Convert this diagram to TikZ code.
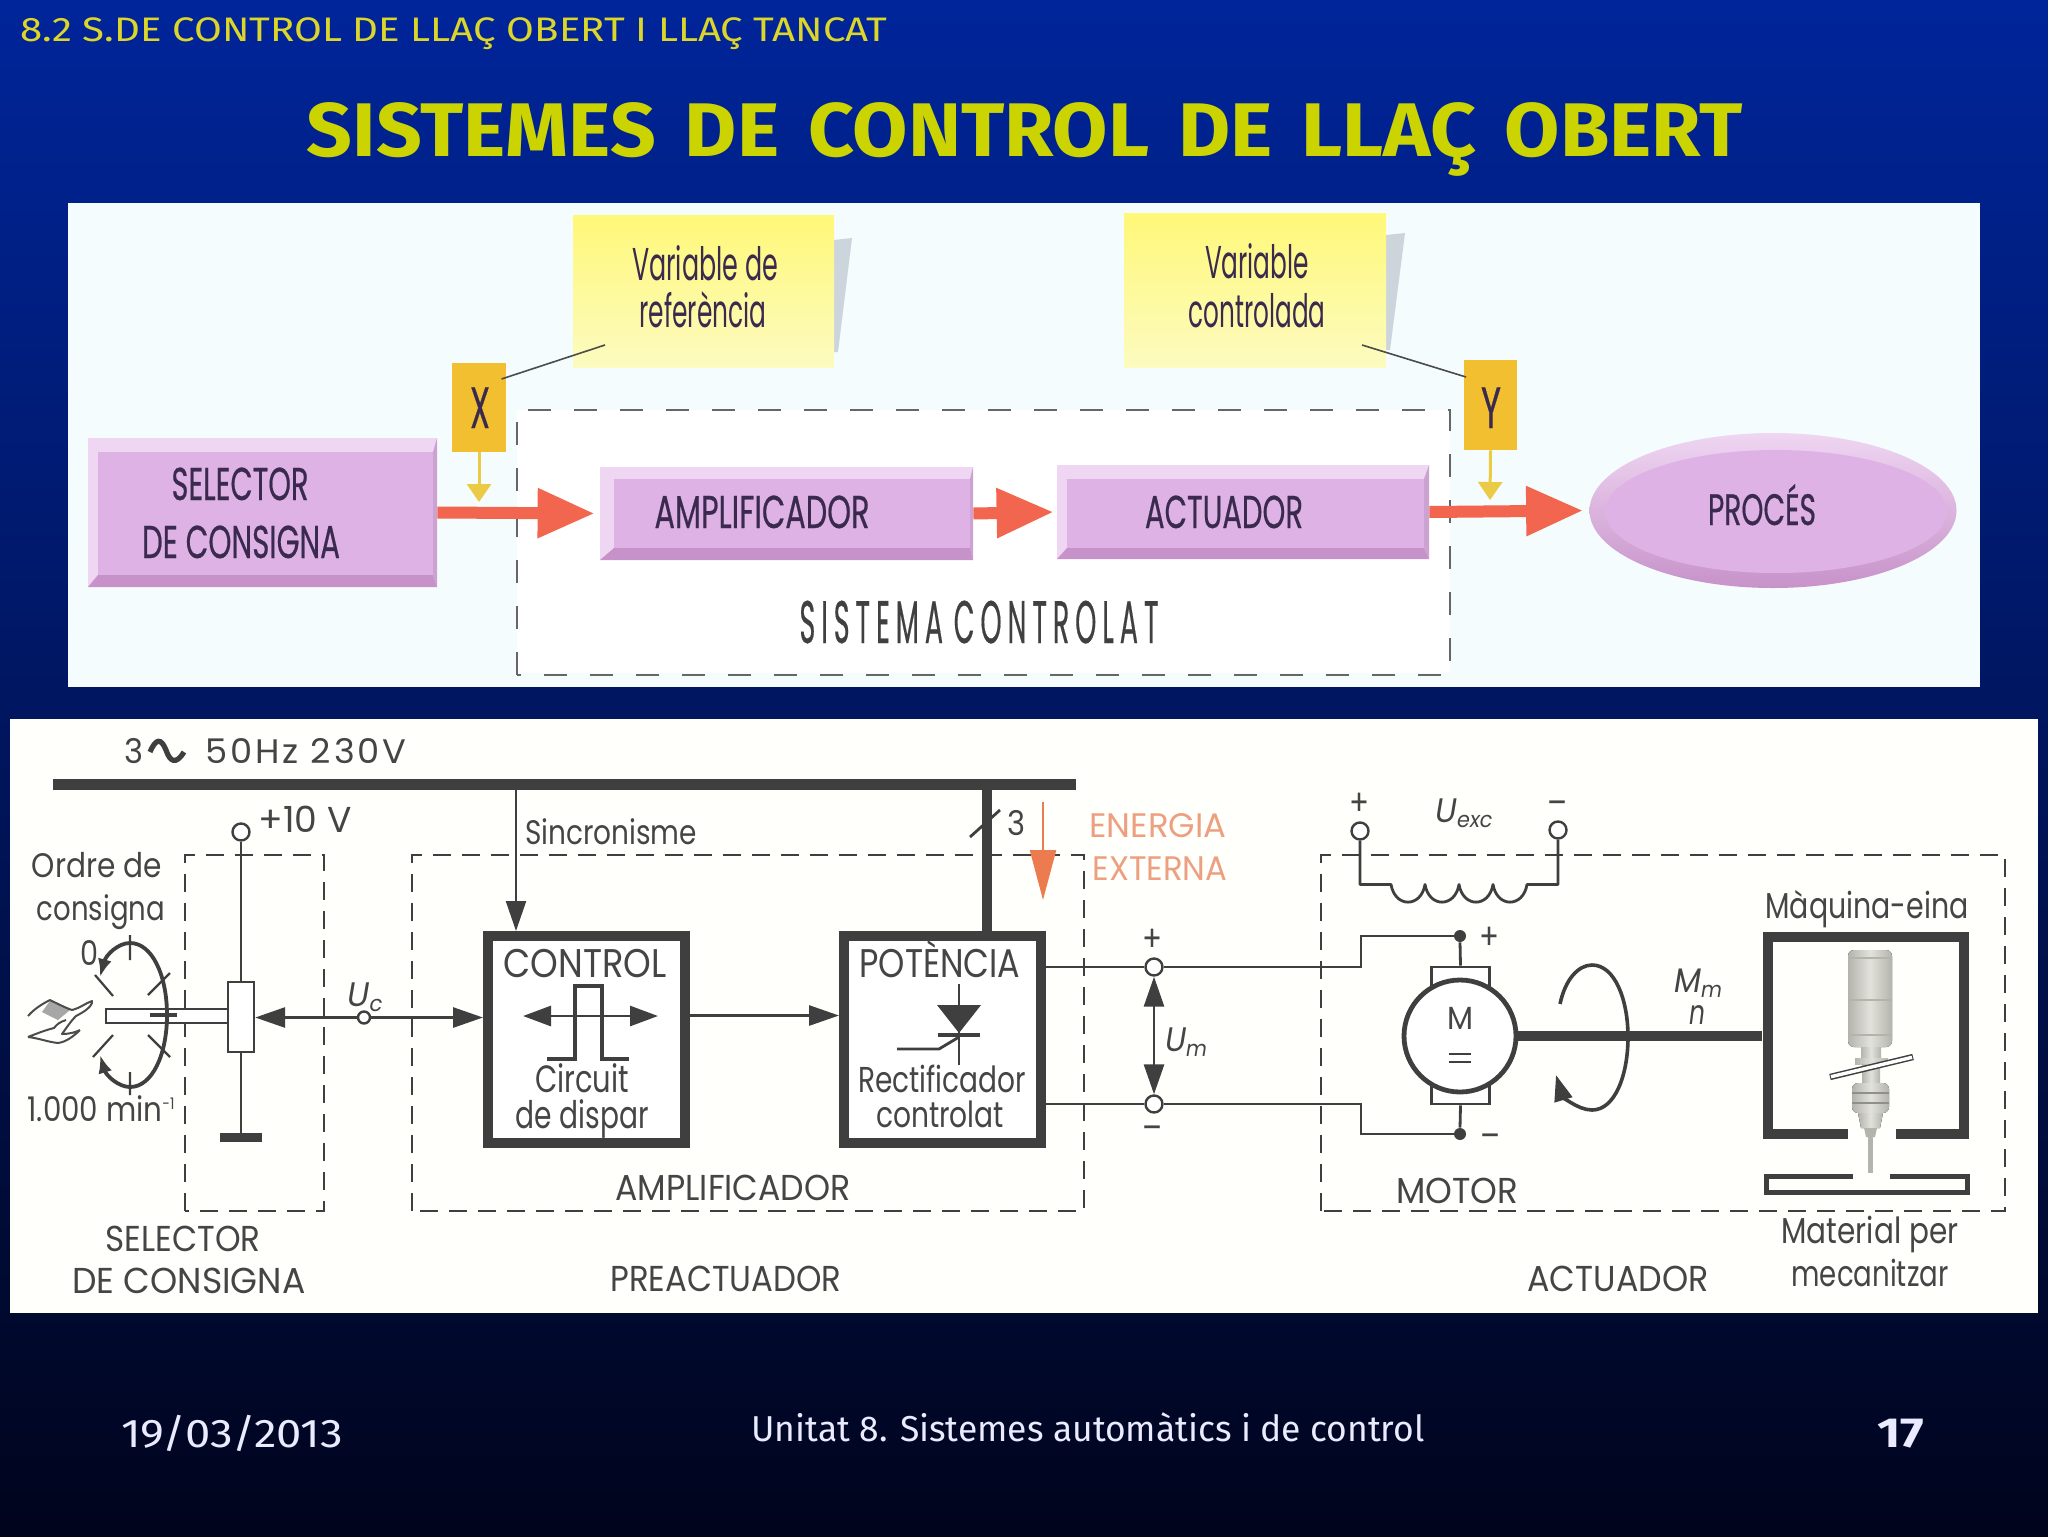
\documentclass[tikz,border=0pt]{standalone}
\usepackage{fontspec}
\usepackage{graphicx}
\setmainfont{Poppins}
\newfontfamily\comic{Fira Sans}
\newfontfamily\pmed[FakeBold=0.6]{Poppins}
\usetikzlibrary{arrows.meta,shapes.geometric,calc}
\newdimen\pxlen \pxlen=0.5pt
% size (pt), natural height kept, width forced to #2 px
\newcommand\Tx[3]{{\fontsize{#1}{#1}\selectfont\resizebox{#2\pxlen}{\height}{#3}}}
\newcommand\subsc[1]{\raisebox{-2.5pt}{\fontsize{11}{11}\selectfont #1}}
\definecolor{ink}{HTML}{454545}
\definecolor{dk}{HTML}{3F3F3F}
\definecolor{face}{HTML}{DFB2E6}
\definecolor{bevL}{HTML}{EFD6F2}
\definecolor{bevD}{HTML}{C792C9}
\definecolor{bevR}{HTML}{CCA3D0}
\definecolor{redar}{HTML}{F2654F}
\definecolor{yelar}{HTML}{EBCB45}
\definecolor{gold}{HTML}{F2BF30}
\definecolor{orng}{HTML}{EC7C50}
\definecolor{orngt}{HTML}{EDA080}
\definecolor{boxtxt}{HTML}{3A2A4E}
\definecolor{ttl}{HTML}{CBD400}
\definecolor{hdr}{HTML}{DDD62A}
\definecolor{sliver}{HTML}{CDD5DC}
\tikzset{
  sz/.style 2 args={minimum width=#1*0.5pt,minimum height=#2*0.5pt,inner sep=0pt},
  txt/.style={inner sep=0pt,anchor=base,text=ink},
  boxlabel/.style={inner sep=0pt,anchor=base,text=boxtxt,font=\pmed},
  wire/.style={draw=dk,line width=1.4pt},
  thin wire/.style={draw=dk,line width=1.1pt},
  dashbox/.style={draw=dk,line width=1.2pt,dash pattern=on 9pt off 5.5pt},
  dashtop/.style={draw=black!60,line width=1pt,dash pattern=on 11.5pt off 11.5pt},
  term/.style={circle,draw=dk,fill=white,line width=1.2pt,minimum size=8.5pt,inner sep=0pt},
  dot/.style={circle,fill=dk,minimum size=6pt,inner sep=0pt},
  heavy/.style={draw=dk,line width=5pt,fill=white},
  flow/.style={draw=redar,line width=6pt,-{Triangle[length=28.5pt,width=23.5pt]}},
  down/.style={draw=yelar,line width=1.5pt,-{Triangle[length=9pt,width=12pt]}},
  head/.style={-{Triangle[length=15pt,width=10pt]}},
  headb/.style={{Triangle[length=15pt,width=10pt]}-{Triangle[length=15pt,width=10pt]}},
}
\newcommand\bevel[8]{% outer x1 y1 x2 y2, inner x1 y1 x2 y2
  \fill[bevL] (#1,#2) rectangle (#3,#4);
  \fill[bevL] (#1,#2) -- (#3,#2) -- (#7,#6) -- (#5,#6) -- cycle;
  \fill[bevR] (#3,#2) -- (#3,#4) -- (#7,#8) -- (#7,#6) -- cycle;
  \fill[bevD] (#1,#4) -- (#3,#4) -- (#7,#8) -- (#5,#8) -- cycle;
  \fill[face] (#5,#6) rectangle (#7,#8);
}
\begin{document}
\begin{tikzpicture}[x=0.5pt,y=-0.5pt]
\useasboundingbox (0,0) rectangle (2048,1536);
\definecolor{bgT}{HTML}{00259A}\definecolor{bgM}{HTML}{001A74}\definecolor{bgB}{HTML}{00041C}
\shade[top color=bgT,middle color=bgM,bottom color=bgB] (0,0) rectangle (2048,1536);

% headings
\node[inner sep=0pt,anchor=base,text=hdr,font=\comic] (head) at (454,42) {\Tx{17}{867}{8.2 S.DE CONTROL DE LLAÇ OBERT I LLAÇ TANCAT}};
\node[inner sep=0pt,anchor=base,text=ttl,font=\comic\bfseries] (title) at (1025,156) {\Tx{38}{1436}{\spaceskip=0.36em SISTEMES DE CONTROL DE LLAÇ OBERT}};
\node[inner sep=0pt,anchor=base,text=white!92!blue,font=\comic] (date) at (232,1447) {\Tx{20}{222}{19/03/2013}};
\node[inner sep=0pt,anchor=base,text=white!92!blue,font=\comic] (unit) at (1088,1441) {\Tx{18}{673}{Unitat 8. Sistemes automàtics i de control}};
\node[inner sep=0pt,anchor=base,text=white!92!blue,font=\comic\bfseries] (page) at (1901,1447) {\Tx{21}{47}{17}};

% ---------- top panel ----------
\fill[white!96!cyan] (68,203) rectangle (1980,687);
\fill[white] (517,410) rectangle (1450,673);

% notes
\fill[sliver] (834,240) -- (852,238) -- (838,352) -- (834,352) -- cycle;
\fill[sliver] (1386,235) -- (1405,233) -- (1390,350) -- (1386,350) -- cycle;
\definecolor{noteT}{HTML}{FFF878}\definecolor{noteB}{HTML}{FCFBC0}
\node[sz={261}{152},top color=noteT,bottom color=noteB] (note1) at (703.5,291) {};
\node[sz={262}{154},top color=noteT,bottom color=noteB] (note2) at (1255,290) {};
\node[boxlabel,font=\mdseries] (n1a) at (705,280) {\Tx{23}{146}{Variable de}};
\node[boxlabel,font=\mdseries] (n1b) at (703,327) {\Tx{23}{127}{referència}};
\node[boxlabel,font=\mdseries] (n2a) at (1257,278) {\Tx{23}{104}{Variable}};
\node[boxlabel,font=\mdseries] (n2b) at (1257,327) {\Tx{23}{137}{controlada}};

% dashed system box
\draw[dashtop] (517,675) -- (517,410) -- (1450,410) -- (1450,675) -- cycle;
\node[boxlabel,text=black!75] (syscon) at (979,643) {\Tx{30}{359}{\addfontfeature{LetterSpace=22}\spaceskip=0.4em SISTEMA CONTROLAT}};

% blocks
\bevel{88}{438}{437}{587}{98}{452}{433}{575}
\bevel{600}{467}{973}{560}{614}{479}{970}{548}
\bevel{1057}{465}{1429}{559}{1067}{479}{1424}{548}
\node[sz={349}{149}] (sel) at (262.5,512.5) {};
\node[sz={373}{93}] (amp) at (786.5,513.5) {};
\node[sz={372}{94}] (act) at (1243,512) {};
\node[ellipse,sz={367}{155},top color=bevL,bottom color=bevD] (proc) at (1773,510.5) {};
\fill[face] (1776,511.5) ellipse [x radius=171,y radius=61.5];
\node[boxlabel] (l1) at (240,500) {\Tx{23}{137}{SELECTOR}};
\node[boxlabel] (l2) at (241,558) {\Tx{23}{198}{DE CONSIGNA}};
\node[boxlabel] (l3) at (762,528) {\Tx{23}{215}{AMPLIFICADOR}};
\node[boxlabel] (l4) at (1224,528) {\Tx{23}{158}{ACTUADOR}};
\node[boxlabel] (l5) at (1762,525) {\Tx{22}{108}{PROCÉS}};

% flow arrows
\draw[flow,shorten >=2.5pt] (sel.east) -- (amp.west);
\draw[flow,shorten >=1.5pt] (amp.east) -- (act.west);
\draw[flow,shorten >=3pt] (act.east) -- (proc.west);

% X and Y tags
\node[sz={54}{89},fill=gold] (xb) at (479,407.5) {};
\node[sz={53}{90},fill=gold] (yb) at (1490.5,405) {};
\node[boxlabel] (xl) at (480,428) {\Tx{29}{20}{X}};
\node[boxlabel] (yl) at (1491,428) {\Tx{29}{20}{Y}};
\coordinate (tipx) at (479,502);
\coordinate (tipy) at (1490,500);
\draw[down] (xb.south) -- (tipx);
\draw[down] (yb.south) -- (tipy);
\coordinate (lead1) at (605,345);
\coordinate (lead1b) at (501.5,379);
\coordinate (lead2) at (1362,345);
\coordinate (lead2b) at (1466,377);
\draw[black!70,line width=.8pt] (lead1) -- (lead1b);
\draw[black!70,line width=.8pt] (lead2) -- (lead2b);

% ---------- bottom panel ----------
\fill[white!99!yellow] (10,719) rectangle (2038,1313);

% dashed frames
\draw[dashbox] (185,1211) -- (185,855) -- (324,855) -- (324,1211) -- cycle;
\draw[dashbox] (412,1211) -- (412,855) -- (1084,855) -- (1084,1211) -- cycle;
\draw[dashbox] (1321,1211) -- (1321,855) -- (2005,855) -- (2005,1211) -- cycle;

% bus
\node[sz={1023}{11},fill=dk] (bus) at (564.5,784) {};
\node[txt] (three) at (134,763) {\Tx{17}{19}{3}};
\draw[dk,line width=2.6pt] (150,752) .. controls (156,738) and (161,738) .. (166,750) .. controls (170,762) and (176,765) .. (184,752);
\node[txt] (freq) at (306,763) {\Tx{17}{201}{\addfontfeature{LetterSpace=8}50Hz 230V}};

% selector
\node[term] (p10) at (241,832) {};
\node[sz={26}{70},draw=dk,fill=white,line width=1.2pt] (pot) at (241,1017) {};
\node[sz={42}{9},fill=dk] (gnd) at (241,1137.5) {};
\draw[wire] (p10.south) -- (pot.north);
\draw[wire] (pot.south) -- (gnd.north);
\node[txt] (ten) at (305,832) {\Tx{18}{93}{+10 V}};
\node[txt] (ord1) at (97,877) {\Tx{17}{130}{Ordre de}};
\node[txt] (ord2) at (101,920) {\Tx{17}{128}{consigna}};
\node[txt] (zero) at (89,965) {\Tx{17}{18}{0}};
\node[txt] (kmin) at (101,1121) {\Tx{17}{147}{1.000 min\raisebox{6pt}{\fontsize{8}{8}\selectfont -1}}};
% rod and dial
\node[sz={122}{14},draw=dk,fill=white,line width=1pt] (rod) at (167,1016) {};
\draw[dk,line width=2pt] (150,1015) -- (177,1015);
\draw[dk,line width=1.9pt,{Latex[length=9pt,width=7pt]}-{Latex[length=9pt,width=7pt]}]
  (100,977) .. controls (106,955) and (118,943) .. (130,943) .. controls (152,943) and (167,975) .. (167,1015)
  .. controls (167,1055) and (152,1087) .. (130,1087) .. controls (118,1087) and (106,1075) .. (100,1055);
\draw[dk,line width=1.1pt]
  (130,935) -- (130,960) (95,975) -- (113,996) (148,995) -- (170,973)
  (148,1035) -- (170,1057) (93,1057) -- (113,1035) (130,1072) -- (130,1095);
% hand
\fill[black!35] (50,1001) -- (70,1010) -- (58,1020) -- (42,1012) -- cycle;
\draw[black!70,line width=1pt,line join=round]
  (28,1016) .. controls (35,1008) and (44,1003) .. (50,1000) .. controls (58,1004) and (66,1008) .. (72,1010)
  .. controls (80,1008) and (86,1003) .. (92,1001) .. controls (93,1006) and (84,1012) .. (76,1016)
  .. controls (70,1022) and (65,1030) .. (62,1034) .. controls (70,1034) and (76,1032) .. (80,1030)
  (28,1037) .. controls (38,1038) and (48,1042) .. (58,1043) .. controls (66,1042) and (74,1036) .. (80,1030)
  (28,1037) .. controls (38,1033) and (46,1030) .. (54,1028) .. controls (57,1024) and (60,1022) .. (66,1020);

% control chain
\node[term,minimum size=6pt] (uc) at (364,1017.5) {};
\node[txt] (uclab) at (365,1006) {\Tx{17}{35}{\itshape U\subsc{c}}};
\node[sz={197}{207},heavy] (ctrl) at (586.5,1039.5) {};
\node[sz={197}{207},heavy] (pwr) at (942.5,1039.5) {};
\draw[wire,head] (uc.west) -- (pot.east |- uc.west);
\draw[wire,head] (uc.east) -- (ctrl.west |- uc.east);
\draw[wire,head] (ctrl.east |- 0,1015.5) -- (pwr.west |- 0,1015.5);
\coordinate (sinc) at (516,800);
\coordinate (pw) at (987,800);
\draw[thin wire,head] (bus.south -| sinc) -- (ctrl.north -| sinc);
\draw[dk,line width=5pt] (bus.south -| pw) -- (pwr.north -| pw);
\coordinate (sl1) at (970,837);
\coordinate (sl2) at (1000,810);
\draw[dk,line width=1.4pt] (sl1) -- (sl2);
\node[txt] (sinclab) at (611,844) {\Tx{17}{172}{Sincronisme}};
\node[txt] (threeb) at (1016,835) {\Tx{17}{18}{3}};
\node[txt] (ctl) at (585,977) {\Tx{20}{163}{CONTROL}};
\draw[dk,line width=2.4pt] (547,1059) -- (575,1059) -- (575,986) -- (602,986) -- (602,1059) -- (629,1059);
\coordinate (pl) at (523,1016);
\coordinate (pr) at (658,1016);
\draw[dk,line width=1.4pt,{Triangle[length=14pt,width=10pt]}-{Triangle[length=14pt,width=10pt]}] (pl) -- (pr);
\node[txt] (circ) at (582,1092) {\Tx{19}{94}{Circuit}};
\node[txt] (disp) at (582,1128) {\Tx{19}{133}{de dispar}};
\node[txt] (pot2) at (940,977) {\Tx{20}{161}{POTÈNCIA}};
% thyristor
\coordinate (thA) at (959,984);
\coordinate (thK) at (959,1065);
\draw[wire] (thA) -- (thK);
\fill[dk] (937,1005) -- (981,1005) -- (959,1033) -- cycle;
\draw[dk,line width=2pt] (938,1035) -- (980,1035);
\draw[wire] (897,1049) -- (939,1049) -- (959,1037);
\node[txt] (rect) at (942,1092) {\Tx{18}{168}{Rectificador}};
\node[txt] (ctlat) at (940,1127) {\Tx{18}{128}{controlat}};
\coordinate (rt) at (1043,802);
\coordinate (rb) at (1043,900);
\draw[orng,line width=1.2pt,-{Triangle[length=25pt,width=13pt]}] (rt) -- (rb);
\node[txt,text=orngt] (en1) at (1158,837) {\Tx{17}{137}{ENERGIA}};
\node[txt,text=orngt] (en2) at (1160,880) {\Tx{17}{135}{EXTERNA}};
\node[txt] (ampb) at (733,1200) {\Tx{18}{235}{AMPLIFICADOR}};
\node[txt] (prea) at (726,1291) {\Tx{18}{231}{PREACTUADOR}};
\node[txt] (sel1) at (183,1251) {\Tx{18}{155}{SELECTOR}};
\node[txt] (sel2) at (189,1293) {\Tx{18}{233}{DE CONSIGNA}};
\node[txt] (actb) at (1618,1291) {\Tx{18}{181}{ACTUADOR}};
\node[txt] (motb) at (1457,1203) {\Tx{18}{122}{MOTOR}};

% armature wiring
\node[term] (up) at (1154,967) {};
\node[term] (un) at (1154,1104) {};
\node[dot] (dp) at (1460,936) {};
\node[dot] (dn) at (1460,1134) {};
\draw[wire] (pwr.east |- up) -- (up.west);
\draw[wire] (pwr.east |- un) -- (un.west);
\draw[wire] (up.east) -- (1361,967) -- (1361,936) -- (dp.west);
\draw[wire] (un.east) -- (1361,1104) -- (1361,1134) -- (dn.west);
\draw[wire,headb] (up.south) -- (un.north);
\node[txt] (upp) at (1152,951) {\Tx{18}{20}{+}};
\node[txt] (unn) at (1152,1140) {\Tx{18}{20}{–}};
\node[txt] (um) at (1186,1051) {\Tx{17}{42}{\itshape U\subsc{m}}};

% motor
\node[sz={58}{26},draw=dk,line width=1.4pt,fill=white] (brT) at (1460.5,980) {};
\node[sz={58}{26},draw=dk,line width=1.4pt,fill=white] (brB) at (1460.5,1091) {};
\draw[wire] (dp.south) -- (brT.north);
\draw[wire] (brB.south) -- (dn.north);
\node[circle,draw=dk,line width=2.4pt,fill=white,minimum size=56pt,inner sep=0pt] (mot) at (1460,1036) {};
\node[txt] (m) at (1460,1029) {\Tx{16}{26}{M}};
\draw[dk,line width=1.1pt] (1449,1054) -- (1471,1054) (1449,1062) -- (1471,1062);
\node[txt] (pp) at (1489,949) {\Tx{18}{20}{+}};
\node[txt] (nn) at (1490,1148) {\Tx{18}{20}{–}};
% exciter
\node[term] (ep) at (1360,831) {};
\node[term] (en) at (1558,830) {};
\draw[wire,line join=round] (ep.south) -- (1360,884.5) -- (1391,884.5)
  .. controls (1395,908) and (1421,908) .. (1425,884.5)
  .. controls (1429,908) and (1455,908) .. (1459,884.5)
  .. controls (1463,908) and (1489,908) .. (1493,884.5)
  .. controls (1497,908) and (1523,908) .. (1527,884.5)
  -- (1558,884.5) -- (en.south);
\node[txt] (ep2) at (1359,815) {\Tx{18}{20}{+}};
\node[txt] (en2b) at (1557,815) {\Tx{18}{20}{–}};
\node[txt] (uexc) at (1464,822) {\Tx{17}{57}{\itshape U\subsc{exc}}};

% rotation
\draw[dk,line width=1.8pt,-{Triangle[length=13pt,width=9pt]}]
  (1560,1004) .. controls (1565,980) and (1578,965) .. (1592,965) .. controls (1615,965) and (1628,1000) .. (1628,1037)
  .. controls (1628,1075) and (1615,1110) .. (1592,1110) .. controls (1577,1110) and (1562,1095) .. (1556,1075);
\node[txt] (mm) at (1698,992) {\Tx{17}{48}{\itshape M\subsc{m}}};
\node[txt] (nlab) at (1697,1024) {\Tx{17}{16}{\itshape n}};

% machine tool
\coordinate (mA) at (1848,1133.5);
\coordinate (mB) at (1896,1133.5);
\draw[dk,line width=5pt] (mA) -- (1768,1133.5) -- (1768,937) -- (1964,937) -- (1964,1133.5) -- (mB);
\node[sz={1}{1}] (mleft) at (1763,1036) {};
\draw[dk,line width=5pt] (mot.east) -- (mleft.west);
\draw[dk,line width=2.5pt] (1853,1176) -- (1766,1176) -- (1766,1192) -- (1967,1192) -- (1967,1176) -- (1890,1176);
\node[txt] (maq) at (1867,918) {\Tx{18}{203}{Màquina-eina}};
\node[txt] (mat1) at (1870,1243) {\Tx{18}{177}{Material per}};
\node[txt] (mat2) at (1870,1286) {\Tx{18}{157}{mecanitzar}};
% spindle
\definecolor{tl}{HTML}{E2E2DC}\definecolor{tm}{HTML}{B4B4AD}
\fill[left color=tm,right color=tm,middle color=tl,rounded corners=3pt] (1848,950) rectangle (1892,1047);
\draw[tm,line width=.6pt] (1849,958) -- (1891,958) (1849,1000) -- (1891,1000) (1849,1035) -- (1891,1035);
\fill[left color=tm,right color=tm,middle color=tl] (1861,1047) rectangle (1881,1058);
\fill[left color=tm,right color=tm,middle color=tl] (1855,1058) rectangle (1888,1064);
\fill[left color=tm,right color=tm,middle color=tl] (1862,1064) rectangle (1880,1083);
\fill[left color=tm,right color=tm,middle color=tl,rounded corners=3pt] (1852,1083) rectangle (1889,1113);
\draw[tm!80!black,line width=.7pt] (1852,1093) -- (1889,1093) (1852,1103) -- (1889,1103);
\fill[left color=tm,right color=tm,middle color=tl] (1858,1113) -- (1883,1113) -- (1880,1128) -- (1861,1128) -- cycle;
\fill[tm] (1864,1128) -- (1877,1128) -- (1875,1137) -- (1866,1137) -- cycle;
\fill[tm] (1868,1137) rectangle (1873,1173);
\draw[black!75,line width=3.2pt] (1830,1077) -- (1913,1057);
\draw[white,line width=1.7pt] (1831,1076.7) -- (1912,1057.3);
\end{tikzpicture}
\end{document}
